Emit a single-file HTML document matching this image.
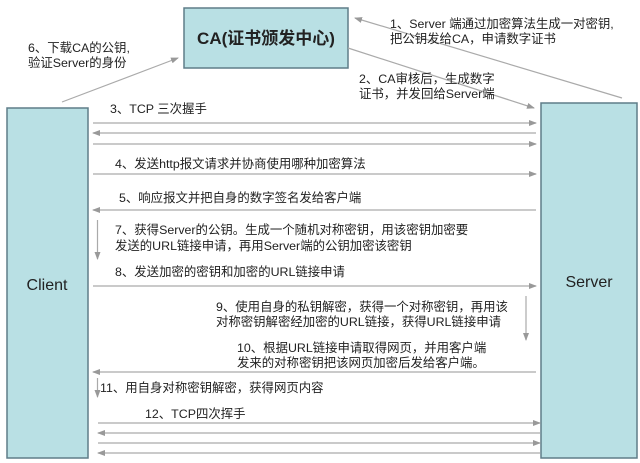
<!DOCTYPE html>
<html><head><meta charset="utf-8"><style>
html,body{margin:0;padding:0;background:#fff;}
svg{display:block;}
text{font-family:"Liberation Sans","Noto Sans CJK SC",sans-serif;fill:#222;font-size:12.4px;}
</style></head><body>
<svg width="640" height="463" viewBox="0 0 640 463" xmlns="http://www.w3.org/2000/svg">
<defs>
<marker id="a" markerWidth="8" markerHeight="6" refX="7" refY="3" orient="auto" markerUnits="userSpaceOnUse">
<path d="M0,0 L8,3 L0,6 z" fill="#999"/></marker>
</defs>
<rect x="184" y="8" width="164" height="60" fill="#b9e0e4" stroke="#5f7d88" stroke-width="1.5"/>
<rect x="7" y="108" width="81" height="350" fill="#b9e0e4" stroke="#5f7d88" stroke-width="1.5"/>
<rect x="541" y="103" width="96" height="355" fill="#b9e0e4" stroke="#5f7d88" stroke-width="1.5"/>
<text x="266" y="44" text-anchor="middle" style="font-size:17px;font-weight:bold">CA(证书颁发中心)</text>
<text x="47" y="290" text-anchor="middle" style="font-size:16px">Client</text>
<text x="589" y="287" text-anchor="middle" style="font-size:16px">Server</text>
<g stroke="#aaa" stroke-width="1.2" fill="none">
<line x1="622" y1="98" x2="355" y2="18" marker-end="url(#a)"/>
<line x1="348" y1="48" x2="534" y2="108" marker-end="url(#a)"/>
<line x1="62" y1="102" x2="178" y2="58" marker-end="url(#a)"/>
<line x1="93" y1="123" x2="536" y2="123" marker-end="url(#a)"/>
<line x1="536" y1="133" x2="93" y2="133" marker-end="url(#a)"/>
<line x1="93" y1="144" x2="536" y2="144" marker-end="url(#a)"/>
<line x1="93" y1="174" x2="536" y2="174" marker-end="url(#a)"/>
<line x1="536" y1="210" x2="93" y2="210" marker-end="url(#a)"/>
<line x1="93" y1="286" x2="536" y2="286" marker-end="url(#a)"/>
<line x1="536" y1="372" x2="93" y2="372" marker-end="url(#a)"/>
<line x1="98" y1="423" x2="540" y2="423" marker-end="url(#a)"/>
<line x1="540" y1="433" x2="98" y2="433" marker-end="url(#a)"/>
<line x1="98" y1="443" x2="540" y2="443" marker-end="url(#a)"/>
<line x1="540" y1="453" x2="98" y2="453" marker-end="url(#a)"/>
<line x1="97.5" y1="220" x2="97.5" y2="259" marker-end="url(#a)"/>
<line x1="526" y1="296" x2="526" y2="340" marker-end="url(#a)"/>
<line x1="97.5" y1="378" x2="97.5" y2="397" marker-end="url(#a)"/>
</g>
<text x="390" y="28">1、Server 端通过加密算法生成一对密钥,</text>
<text x="390" y="43">把公钥发给CA，申请数字证书</text>
<text x="359" y="83">2、CA审核后，生成数字</text>
<text x="359" y="98">证书，并发回给Server端</text>
<text x="28" y="52">6、下载CA的公钥,</text>
<text x="28" y="67">验证Server的身份</text>
<text x="110" y="113">3、TCP 三次握手</text>
<text x="115" y="168">4、发送http报文请求并协商使用哪种加密算法</text>
<text x="119" y="202">5、响应报文并把自身的数字签名发给客户端</text>
<text x="115" y="234">7、获得Server的公钥。生成一个随机对称密钥，用该密钥加密要</text>
<text x="115" y="250">发送的URL链接申请，再用Server端的公钥加密该密钥</text>
<text x="115" y="276">8、发送加密的密钥和加密的URL链接申请</text>
<text x="216" y="311">9、使用自身的私钥解密，获得一个对称密钥，再用该</text>
<text x="216" y="326">对称密钥解密经加密的URL链接，获得URL链接申请</text>
<text x="237" y="352">10、根据URL链接申请取得网页，并用客户端</text>
<text x="237" y="367">发来的对称密钥把该网页加密后发给客户端。</text>
<text x="100" y="392">11、用自身对称密钥解密，获得网页内容</text>
<text x="145" y="418">12、TCP四次挥手</text>
</svg>
</body></html>
